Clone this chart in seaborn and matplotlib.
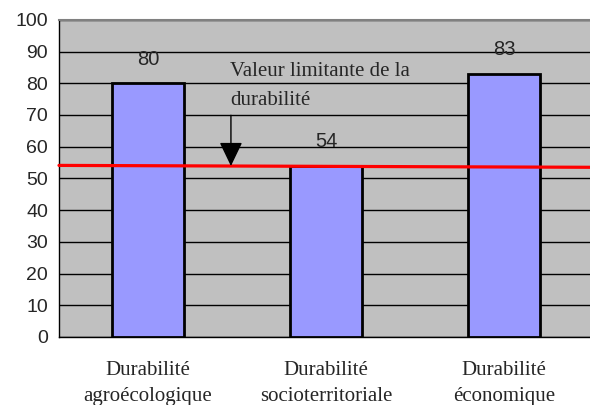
import matplotlib
matplotlib.use("Agg")
import matplotlib.pyplot as plt
import seaborn as sns
import pandas as pd
import numpy as np

categories = ["Durabilité\nagroécologique", "Durabilité\nsocioterritoriale", "Durabilité\néconomique"]
scores = [80, 54, 83]
threshold_left = 54.1
threshold_right = 53.5
threshold_label = "Valeur limitante de la\ndurabilité"

df = pd.DataFrame({"dimension": categories, "score": scores})

sns.set_style("white")
plt.rcParams["font.family"] = ["Liberation Sans", "DejaVu Sans"]

fig = plt.figure(figsize=(5.9, 4.05), dpi=100)
ax = fig.add_axes([0.1, 0.168, 0.905, 0.783])
ax.set_facecolor("#C0C0C0")

sns.barplot(data=df, x="dimension", y="score", order=categories, color="#9999FF",
            saturation=1, width=0.4, edgecolor="black", linewidth=2, ax=ax, zorder=3)

ax.set_ylim(0, 100)
ax.set_xlim(-0.5, 2.5)
ax.set_yticks(np.arange(0, 101, 10))
ax.yaxis.grid(True, color="black", linewidth=1)
ax.set_axisbelow(True)
ax.set_xlabel("")
ax.set_ylabel("")

# tick marks sit between categories, labels stay centred under the bars
ax.set_xticks(np.arange(len(categories)))
ax.set_xticklabels(categories, family=["Liberation Serif"], fontsize=15, linespacing=1.55)
ax.set_xticks([-0.5, 0.5, 1.5], minor=True)
ax.tick_params(axis="x", which="major", length=0, pad=17)
ax.tick_params(axis="x", which="minor", length=6, width=1, color="black", direction="out")
ax.tick_params(axis="y", length=6, width=1, color="black", direction="out", labelsize=14, pad=2)

for side in ["left", "bottom"]:
    ax.spines[side].set_color("black")
    ax.spines[side].set_linewidth(1)
ax.spines["top"].set_color("#808080")
ax.spines["top"].set_linewidth(1.5)
ax.spines["right"].set_visible(False)

for i, v in enumerate(scores):
    ax.text(i, v + 7.6, str(v), ha="center", va="center", fontsize=14.5, zorder=4)

ax.plot([-0.5, 2.5], [threshold_left, threshold_right], color="#FF0000", linewidth=2.3,
        zorder=5, clip_on=False)

ax.annotate("", xy=(0.466, 53.9), xytext=(0.466, 69.9),
            arrowprops=dict(arrowstyle="-|>,head_width=0.72,head_length=1.5",
                            mutation_scale=10, color="black", linewidth=1,
                            shrinkA=0, shrinkB=0), zorder=6)
ax.text(0.46, 79.1, threshold_label, ha="left", va="center", fontsize=15,
        family=["Liberation Serif"], linespacing=1.75, zorder=6)

fig.savefig("out.png", dpi=100)
